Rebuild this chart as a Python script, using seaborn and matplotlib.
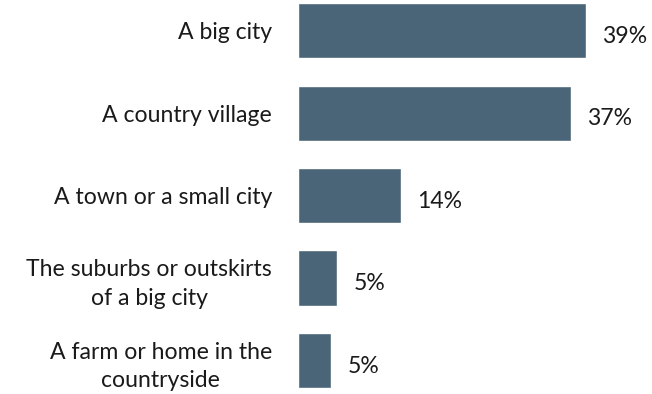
import matplotlib
matplotlib.use("Agg")
from matplotlib import pyplot as plt
import pandas as pd
import seaborn as sns

categories = [
    "A big city",
    "A country village",
    "A town or a small city",
    "The suburbs or outskirts\nof a big city",
    "A farm or home in the\ncountryside",
]
values = [39, 37, 14, 5.3, 4.5]
value_labels = ["39%", "37%", "14%", "5%", "5%"]

sns.set_style("white")
plt.rcParams["font.family"] = ["Lato", "DejaVu Sans"]

df = pd.DataFrame({"place": categories, "share": values})

fig = plt.figure(figsize=(6.52, 3.94), dpi=100)
ax = fig.add_axes([298 / 652, 0, 1 - 298 / 652, 1])

sns.barplot(data=df, y="place", x="share", orient="h", color="#4a6578",
            saturation=1, width=0.667, ax=ax)

ax.set_xlim(0, 48)
ax.set_ylim(4.406, -0.37)
ax.set_xlabel("")
ax.set_ylabel("")
ax.set_xticks([])
for s in ax.spines.values():
    s.set_visible(False)

# pad is in points: 26 px at 100 dpi
ax.tick_params(axis="y", length=0, pad=18.7, labelsize=16.6)
for t in ax.get_yticklabels():
    t.set_multialignment("center")
    t.set_linespacing(1.45)
    t.set_color("#1a1a1a")

for i, (v, lab) in enumerate(zip(values, value_labels)):
    ax.text(v + 2.2, i + 0.07, lab, va="center", ha="left",
            fontsize=16.6, color="#1a1a1a")

fig.savefig("out.png", dpi=100)
